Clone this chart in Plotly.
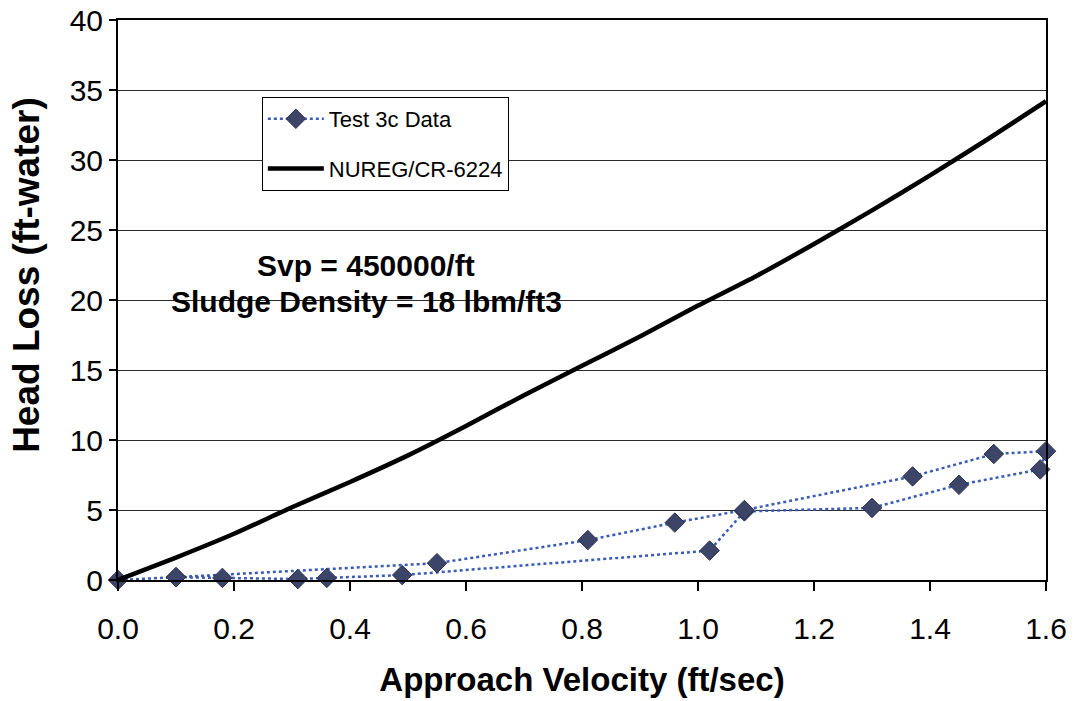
import plotly.graph_objects as go

# Test 3c data (measurement sequence, forms a hysteresis loop)
test_v = [0.00, 0.10, 0.18, 0.31, 0.36, 0.49, 1.02, 1.08, 1.30, 1.45, 1.59, 1.60,
          1.51, 1.37, 1.08, 0.96, 0.81, 0.55, 0.10]
test_h = [0.00, 0.20, 0.15, 0.07, 0.15, 0.35, 2.10, 4.90, 5.15, 6.80, 7.90, 9.20,
          9.00, 7.40, 5.00, 4.10, 2.85, 1.20, 0.20]

# NUREG/CR-6224 correlation curve
nureg_v = [0.0, 0.1, 0.2, 0.3, 0.4, 0.5, 0.6, 0.7, 0.8, 0.9, 1.0, 1.1, 1.2, 1.3, 1.4, 1.5, 1.6]
nureg_h = [0.0, 1.6, 3.3, 5.2, 7.0, 8.9, 11.0, 13.2, 15.3, 17.4, 19.6, 21.7, 24.0, 26.4, 28.9, 31.5, 34.2]

x_ticks = [0.0, 0.2, 0.4, 0.6, 0.8, 1.0, 1.2, 1.4, 1.6]
y_ticks = [0, 5, 10, 15, 20, 25, 30, 35, 40]

FONT = "Liberation Sans, Arial, sans-serif"

fig = go.Figure()
fig.add_trace(go.Scatter(
    x=test_v, y=test_h, mode="lines+markers", name="Test 3c Data",
    legendgroup="a",
    line=dict(color="#3a5cb8", width=2.5, dash="dot"),
    marker=dict(symbol="diamond", size=15, color="#3c4468",
                line=dict(color="#2c3352", width=1)),
    cliponaxis=False,
))
fig.add_trace(go.Scatter(
    x=nureg_v, y=nureg_h, mode="lines", name="NUREG/CR-6224",
    legendgroup="b",
    line=dict(color="black", width=4.5, shape="spline", smoothing=0.6),
    cliponaxis=False,
))

fig.add_annotation(x=0.4276, y=22.5, text="Svp = 450000/ft", showarrow=False,
                   xanchor="center", yanchor="middle",
                   font=dict(family=FONT, size=30, color="black", weight="bold"))
fig.add_annotation(x=0.4276, y=19.9, text="Sludge Density = 18 lbm/ft3", showarrow=False,
                   xanchor="center", yanchor="middle",
                   font=dict(family=FONT, size=30, color="black", weight="bold"))

# y-axis title (placed slightly above centre as in the original)
fig.add_annotation(xref="paper", yref="paper", x=-0.098, y=0.545,
                   text="Head Loss (ft-water)", textangle=-90, showarrow=False,
                   xanchor="center", yanchor="middle",
                   font=dict(family=FONT, size=37, color="black", weight="bold"))

fig.update_layout(
    width=1075, height=701,
    margin=dict(l=118, r=29, t=20, b=121),
    paper_bgcolor="white", plot_bgcolor="white",
    font=dict(family=FONT, color="black"),
    showlegend=True,
    legend=dict(
        x=0.155, y=0.8625, xanchor="left", yanchor="top",
        bgcolor="white", bordercolor="black", borderwidth=1,
        font=dict(family=FONT, size=22, color="black"),
        traceorder="grouped", tracegroupgap=18,
        itemwidth=56,
    ),
    xaxis=dict(
        range=[0, 1.6], tickvals=x_ticks, tickformat=".1f",
        showgrid=False, zeroline=False,
        showline=True, linecolor="black", linewidth=2, mirror=True,
        ticks="outside", ticklen=9, tickwidth=1.5, tickcolor="black",
        tickfont=dict(family=FONT, size=30, color="black"),
        ticklabelstandoff=12, ticklabeloverflow="allow",
        title=dict(text="Approach Velocity (ft/sec)", standoff=24,
                   font=dict(family=FONT, size=33, color="black", weight="bold")),
        automargin=False,
    ),
    yaxis=dict(
        range=[0, 40], tickvals=y_ticks,
        showgrid=True, gridcolor="#2b2b2b", gridwidth=1.2,
        zeroline=False,
        showline=True, linecolor="black", linewidth=2, mirror=True,
        ticks="outside", ticklen=7, tickwidth=1.5, tickcolor="black",
        tickfont=dict(family=FONT, size=30, color="black"),
        ticklabeloverflow="allow",
        automargin=False,
    ),
)

fig.write_html("out.html",
               config={"displayModeBar": False},
               post_script="document.body.style.margin='0';document.body.style.overflow='hidden';")
